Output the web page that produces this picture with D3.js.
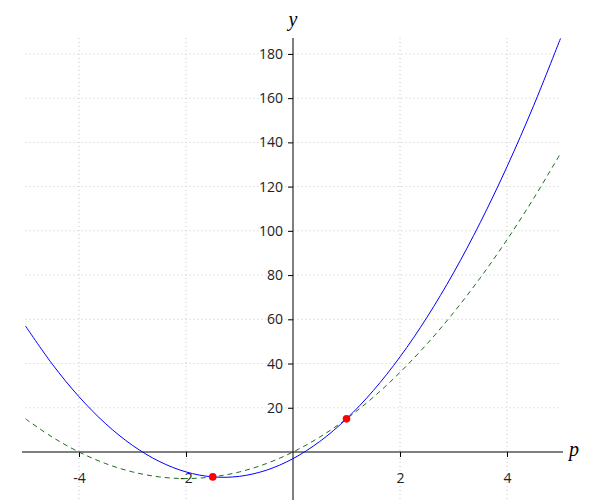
<!DOCTYPE html>
<html>
  <head>
    <meta charset="utf-8">
    <script type="text/javascript" src="https://cdn.jsdelivr.net/npm/d3@7"></script>
    <style type="text/css">

html, body {
  margin: 0;
  background: #fff;
}

svg {
  display: block;
}

.grid line {
  stroke: #c8c8c8;
  stroke-dasharray: 1,3;
}

.tick text {
  fill: #222;
  font-family: "Open Sans", sans-serif;
  font-size: 14px;
}

.label {
  font-family: "Liberation Serif", serif;
  font-style: italic;
  font-size: 20px;
}

    </style>
  </head>
  <body>
    <div id="chart"></div>
    <script type="text/javascript">

var pValues = [-5, -4.5, -4, -3.5, -3, -2.5, -2, -1.5, -1, -0.5, 0, 0.5, 1, 1.5, 2, 2.5, 3, 3.5, 4, 4.5, 5];
var blueY = [57, 39.75, 25, 12.75, 3, -4.25, -9, -11.25, -11, -8.25, -3, 4.75, 15, 27.75, 43, 60.75, 81, 103.75, 129, 156.75, 187];
var greenY = [15, 6.75, 0, -5.25, -9, -11.25, -12, -11.25, -9, -5.25, 0, 6.75, 15, 24.75, 36, 48.75, 63, 78.75, 96, 114.75, 135];
var crossP = [-1.5, 1];
var crossY = [-11.25, 15];
var xTicks = [-4, -2, 2, 4];
var yTicks = [20, 40, 60, 80, 100, 120, 140, 160, 180];

var width = 600,
    height = 500;

var x = d3.scaleLinear().domain([-5, 5]).range([25.5, 560.5]);
var y = d3.scaleLinear().domain([-21.7, 187.2]).range([500, 38]);

var svg = d3.select("#chart").append("svg")
    .attr("width", width)
    .attr("height", height);

// dotted grid
var grid = svg.append("g").attr("class", "grid");
grid.selectAll("line.h")
    .data(yTicks)
  .enter().append("line")
    .attr("x1", x(-5)).attr("x2", x(5))
    .attr("y1", function(d) { return y(d); })
    .attr("y2", function(d) { return y(d); });
grid.selectAll("line.v")
    .data(xTicks)
  .enter().append("line")
    .attr("y1", y(187.2)).attr("y2", height)
    .attr("x1", function(d) { return x(d); })
    .attr("x2", function(d) { return x(d); });

// axes through the origin
var xAxis = svg.append("g")
    .attr("transform", "translate(0," + y(0) + ")")
    .call(d3.axisBottom(x).tickValues(xTicks).tickSize(5).tickPadding(16).tickFormat(String));
xAxis.select(".domain").attr("d", "M22,0H563");

var yAxis = svg.append("g")
    .attr("transform", "translate(" + x(0) + ",0)")
    .call(d3.axisLeft(y).tickValues(yTicks).tickSize(5).tickPadding(5).tickFormat(String));
yAxis.select(".domain").attr("d", "M0,38V" + height);

svg.selectAll(".domain, .tick line").attr("stroke", "#000");

svg.append("text")
    .attr("class", "label")
    .attr("x", 574).attr("y", y(0) + 4)
    .attr("text-anchor", "middle")
    .text("p");
svg.append("text")
    .attr("class", "label")
    .attr("x", x(0)).attr("y", 26)
    .attr("text-anchor", "middle")
    .text("y");

var line = d3.line()
    .curve(d3.curveCatmullRom)
    .x(function(d, i) { return x(pValues[i]); })
    .y(function(d) { return y(d); });

svg.append("path")
    .datum(greenY)
    .attr("fill", "none")
    .attr("stroke", "#1a6e1a")
    .attr("stroke-dasharray", "5,4")
    .attr("d", line);

svg.append("path")
    .datum(blueY)
    .attr("fill", "none")
    .attr("stroke", "#0000ff")
    .attr("d", line);

svg.selectAll("circle.cross")
    .data(crossP)
  .enter().append("circle")
    .attr("r", 3.8)
    .attr("cx", function(d) { return x(d); })
    .attr("cy", function(d, i) { return y(crossY[i]); })
    .attr("fill", "#ff0000");

    </script>
  </body>
</html>
